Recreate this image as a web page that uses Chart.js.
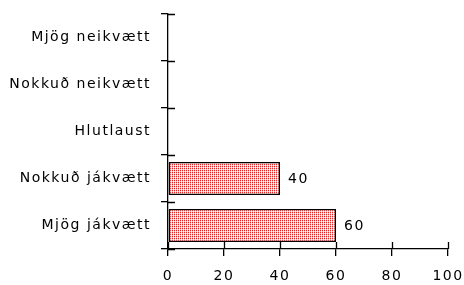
<!DOCTYPE html>
<html>
<head>
<meta charset="utf-8">
<script src="https://cdn.jsdelivr.net/npm/chart.js@4/dist/chart.umd.min.js"></script>
<style>
  html, body { margin: 0; padding: 0; background: #fff; }
  #wrap { width: 464px; height: 285px; }
</style>
</head>
<body>
<div id="wrap"><canvas id="c" width="464" height="285"></canvas></div>
<script>
const categories = ["Mjög neikvætt", "Nokkuð neikvætt", "Hlutlaust", "Nokkuð jákvætt", "Mjög jákvætt"];
const values = [0, 0, 0, 40, 60];
const xTicks = [0, 20, 40, 60, 80, 100];

function makePattern() {
  const p = document.createElement('canvas');
  p.width = 2; p.height = 2;
  const g = p.getContext('2d');
  g.fillStyle = '#ffffff'; g.fillRect(0, 0, 2, 2);
  g.fillStyle = '#e42828'; g.fillRect(0, 0, 1, 1);
  g.fillStyle = '#ffe0e0'; g.fillRect(1, 0, 1, 1);
  g.fillStyle = '#f6b4b4'; g.fillRect(0, 1, 1, 1);
  return document.getElementById('c').getContext('2d').createPattern(p, 'repeat');
}

const SPACING = '1.5px';
const FONT = { family: "'DejaVu Sans', sans-serif", size: 14 };

const axisPlugin = {
  id: 'axisTicksInside',
  beforeUpdate(chart) { chart.ctx.letterSpacing = SPACING; },
  beforeLayout(chart) { chart.ctx.letterSpacing = SPACING; },
  beforeDraw(chart) { chart.ctx.letterSpacing = SPACING; },
  afterDraw(chart) {
    const ctx = chart.ctx;
    const x = chart.scales.x, y = chart.scales.y;
    const inner = 7;
    ctx.save();
    ctx.strokeStyle = '#000';
    ctx.lineWidth = 1.3;
    ctx.beginPath();
    xTicks.forEach(v => {
      const px = Math.round(x.getPixelForValue(v)) + 0.5;
      ctx.moveTo(px, y.bottom);
      ctx.lineTo(px, y.bottom - inner);
    });
    for (let i = 0; i <= categories.length; i++) {
      const py = Math.round(y.top + (y.bottom - y.top) * i / categories.length) + 0.5;
      ctx.moveTo(x.left, py);
      ctx.lineTo(x.left + inner, py);
    }
    ctx.stroke();
    ctx.fillStyle = '#000';
    ctx.letterSpacing = SPACING;
    ctx.font = "14px 'DejaVu Sans', sans-serif";
    ctx.textBaseline = 'middle';
    ctx.textAlign = 'left';
    const meta = chart.getDatasetMeta(0);
    meta.data.forEach((bar, i) => {
      if (values[i] > 0) {
        ctx.fillText(String(values[i]), bar.x + 8, bar.y + 1);
      }
    });
    ctx.restore();
  }
};

new Chart(document.getElementById('c'), {
  type: 'bar',
  data: {
    labels: categories,
    datasets: [{
      data: values,
      backgroundColor: makePattern(),
      borderColor: '#000',
      borderWidth: 1.5,
      borderSkipped: false,
      barPercentage: 0.7,
      categoryPercentage: 1.0
    }]
  },
  options: {
    indexAxis: 'y',
    responsive: false,
    animation: false,
    events: [],
    layout: { padding: { top: 14, right: 16, left: 0, bottom: 0 } },
    plugins: { legend: { display: false }, tooltip: { enabled: false } },
    scales: {
      x: {
        min: 0, max: 100,
        afterBuildTicks(scale) { scale.ticks = xTicks.map(v => ({ value: v })); },
        afterFit(scale) { scale.height = 36; scale.paddingRight = 0; scale.paddingLeft = 0; },
        border: { display: true, color: '#000', width: 1.3 },
        grid: { drawOnChartArea: false, tickLength: 7, color: '#000', lineWidth: 1.3 },
        ticks: { color: '#000', font: FONT, padding: 12, maxRotation: 0 }
      },
      y: {
        offset: true,
        afterFit(scale) { scale.width = 168; scale.paddingTop = 0; scale.paddingBottom = 0; },
        border: { display: true, color: '#000', width: 1.3 },
        grid: { drawOnChartArea: false, offset: true, tickLength: 7, color: '#000', lineWidth: 1.3 },
        ticks: { color: '#000', font: FONT, padding: 10 }
      }
    }
  },
  plugins: [axisPlugin]
});
</script>
</body>
</html>
